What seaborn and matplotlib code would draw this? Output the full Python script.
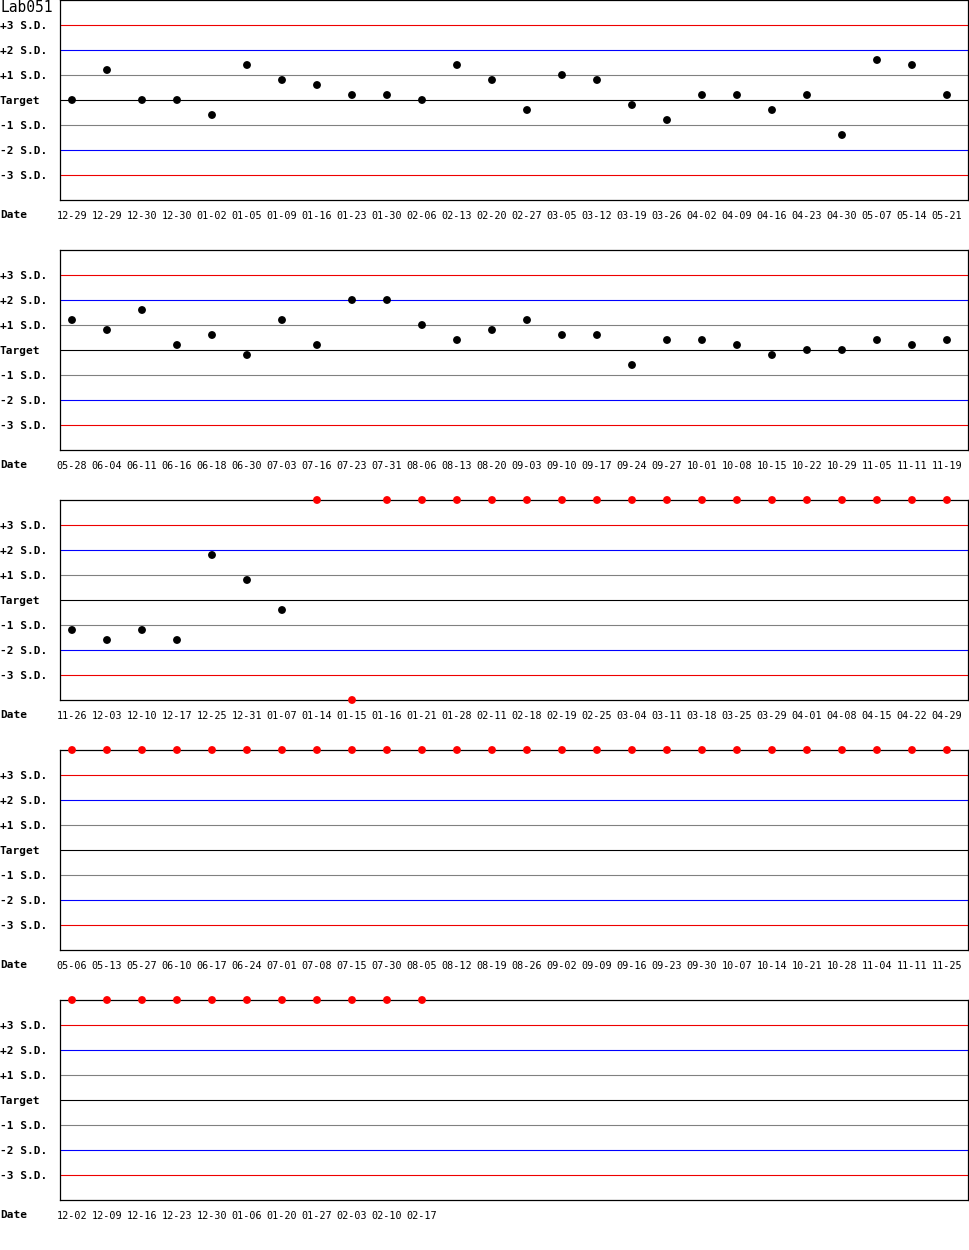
import pandas as pd
import matplotlib
matplotlib.use("Agg")
import matplotlib.pyplot as plt
import seaborn as sns

# values in S.D. from target; +/-4 means off the chart (drawn red at the edge)
dates_1 = ['12-29', '12-29', '12-30', '12-30', '01-02', '01-05', '01-09', '01-16', '01-23', '01-30',
           '02-06', '02-13', '02-20', '02-27', '03-05', '03-12', '03-19', '03-26', '04-02', '04-09',
           '04-16', '04-23', '04-30', '05-07', '05-14', '05-21']
sd_1 = [0, 1.2, 0, 0, -0.6, 1.4, 0.8, 0.6, 0.2, 0.2, 0, 1.4, 0.8, -0.4, 1.0, 0.8, -0.2, -0.8,
        0.2, 0.2, -0.4, 0.2, -1.4, 1.6, 1.4, 0.2]

dates_2 = ['05-28', '06-04', '06-11', '06-16', '06-18', '06-30', '07-03', '07-16', '07-23', '07-31',
           '08-06', '08-13', '08-20', '09-03', '09-10', '09-17', '09-24', '09-27', '10-01', '10-08',
           '10-15', '10-22', '10-29', '11-05', '11-11', '11-19']
sd_2 = [1.2, 0.8, 1.6, 0.2, 0.6, -0.2, 1.2, 0.2, 2.0, 2.0, 1.0, 0.4, 0.8, 1.2, 0.6, 0.6, -0.6,
        0.4, 0.4, 0.2, -0.2, 0, 0, 0.4, 0.2, 0.4]

dates_3 = ['11-26', '12-03', '12-10', '12-17', '12-25', '12-31', '01-07', '01-14', '01-15', '01-16',
           '01-21', '01-28', '02-11', '02-18', '02-19', '02-25', '03-04', '03-11', '03-18', '03-25',
           '03-29', '04-01', '04-08', '04-15', '04-22', '04-29']
sd_3 = [-1.2, -1.6, -1.2, -1.6, 1.8, 0.8, -0.4, 4, -4, 4, 4, 4, 4, 4, 4, 4, 4, 4, 4, 4,
        4, 4, 4, 4, 4, 4]

dates_4 = ['05-06', '05-13', '05-27', '06-10', '06-17', '06-24', '07-01', '07-08', '07-15', '07-30',
           '08-05', '08-12', '08-19', '08-26', '09-02', '09-09', '09-16', '09-23', '09-30', '10-07',
           '10-14', '10-21', '10-28', '11-04', '11-11', '11-25']
sd_4 = [4] * 26

dates_5 = ['12-02', '12-09', '12-16', '12-23', '12-30', '01-06', '01-20', '01-27', '02-03', '02-10',
           '02-17']
sd_5 = [4] * 11

panels = [(dates_1, sd_1), (dates_2, sd_2), (dates_3, sd_3), (dates_4, sd_4), (dates_5, sd_5)]

sd_levels = [3, 2, 1, 0, -1, -2, -3]
sd_labels = ['+3 S.D.', '+2 S.D.', '+1 S.D.', 'Target', '-1 S.D.', '-2 S.D.', '-3 S.D.']
level_colors = {3: '#ee0000', 2: '#0000ff', 1: '#808080', 0: '#000000',
                -1: '#808080', -2: '#0000ff', -3: '#ee0000'}

sns.set_style("white")
plt.rcParams['font.family'] = ['DejaVu Sans Mono']
plt.rcParams['text.color'] = 'black'
plt.rcParams['xtick.color'] = 'black'
plt.rcParams['ytick.color'] = 'black'

W, H = 970, 1250
fig = plt.figure(figsize=(W / 100, H / 100), dpi=100)

for i, (dates, sd) in enumerate(panels):
    top = 250 * i
    ax = fig.add_axes([60 / W, (H - top - 200) / H, 908 / W, 200 / H])
    df = pd.DataFrame({'pos': range(len(dates)), 'sd': sd})
    df['out'] = df['sd'].abs() >= 4

    for lv in sd_levels:
        ax.axhline(lv, color=level_colors[lv], lw=0.8, zorder=1)

    sns.scatterplot(data=df, x='pos', y='sd', hue='out',
                    palette={False: 'black', True: '#ff0000'},
                    s=32, linewidth=0, legend=False, ax=ax, clip_on=False, zorder=3)

    ax.set_xlim(-12 / 35, 896 / 35)
    ax.set_ylim(-4, 4)
    ax.set_xlabel('')
    ax.set_ylabel('')

    ax.set_xticks(range(len(dates)))
    ax.set_xticklabels(dates, fontsize=7.3)
    ax.set_yticks(sd_levels)
    ax.set_yticklabels(sd_labels, fontsize=8, fontweight='bold', ha='left')
    ax.tick_params(axis='y', length=0, pad=43.2)
    ax.tick_params(axis='x', length=0, pad=8)

    for sp in ax.spines.values():
        sp.set_visible(True)
        sp.set_color('black')
        sp.set_linewidth(0.9)

    fig.text(0 / W, 1 - (top + 215) / H, 'Date', fontsize=8, fontweight='bold',
             ha='left', va='center')

fig.text(0 / W, 1 - 8 / H, 'Lab051', fontsize=10.5, ha='left', va='center')

fig.savefig('out.png', dpi=100)
